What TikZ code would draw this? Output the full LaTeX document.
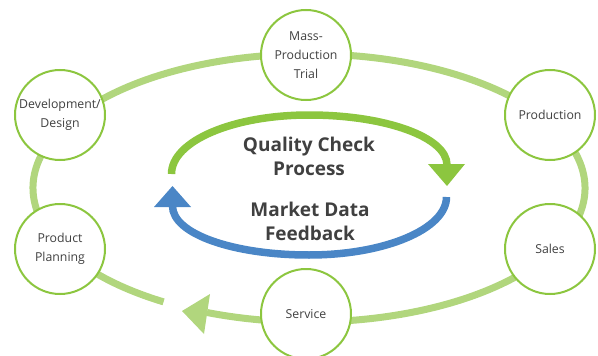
\documentclass[tikz,border=0pt]{standalone}
\usepackage{fontspec}
\setmainfont{Open Sans}
\definecolor{ringgreen}{HTML}{B1D67D}
\definecolor{edgegreen}{HTML}{8CC63F}
\definecolor{arrowblue}{HTML}{4A86C6}
\definecolor{txtgrey}{HTML}{404040}
\begin{document}
\begin{tikzpicture}[x=1pt,y=-1pt,
  stage/.style={circle,draw=edgegreen,line width=2pt,fill=white,minimum size=90pt,inner sep=0pt,
    align=center,text=txtgrey,font=\fontsize{12.3}{19}\selectfont},
  ring/.style={draw=ringgreen,line width=7pt},
  loopgreen/.style={draw=edgegreen,line width=7.5pt},
  loopblue/.style={draw=arrowblue,line width=7.5pt},
  bigtext/.style={align=center,text=txtgrey,font=\fontsize{19}{24}\selectfont\bfseries}]
\useasboundingbox (0,0) rectangle (598,356);
% outer ring
\coordinate (rc) at (309,188);
\draw[ring] (rc) ++(121.8:276 and 134) arc[start angle=121.8,end angle=471.7,x radius=276,y radius=134];
\fill[ringgreen] (182,311) -- (210,294) -- (204,334) -- cycle;
% inner loops
\draw[loopgreen] (171.5,174) .. controls (171.5,141) and (233,115) .. (309,115)
  .. controls (385,115) and (447,137) .. (447,165);
\fill[edgegreen] (428,164) -- (465,164) -- (447,186) -- cycle;
\draw[loopblue] (446.5,197) .. controls (446.5,229) and (385,255) .. (309,255)
  .. controls (233.5,255) and (172.5,234) .. (172.5,206);
\fill[arrowblue] (154,207) -- (191,207) -- (172.5,186) -- cycle;
% texts
\node[bigtext] (qc) at (309,156) {Quality Check\\Process};
\node[bigtext] (md) at (310,221) {Market Data\\Feedback};
% stages
\node[stage] (dev) at (60,115) {Development/\\Design};
\node[stage] (mpt) at (306,55) {Mass-\\Production\\Trial};
\node[stage] (prod) at (550,115) {Production};
\node[stage] (sales) at (550,249) {Sales};
\node[stage] (serv) at (306,314) {Service};
\node[stage] (plan) at (60,249) {Product\\Planning};
\end{tikzpicture}
\end{document}
